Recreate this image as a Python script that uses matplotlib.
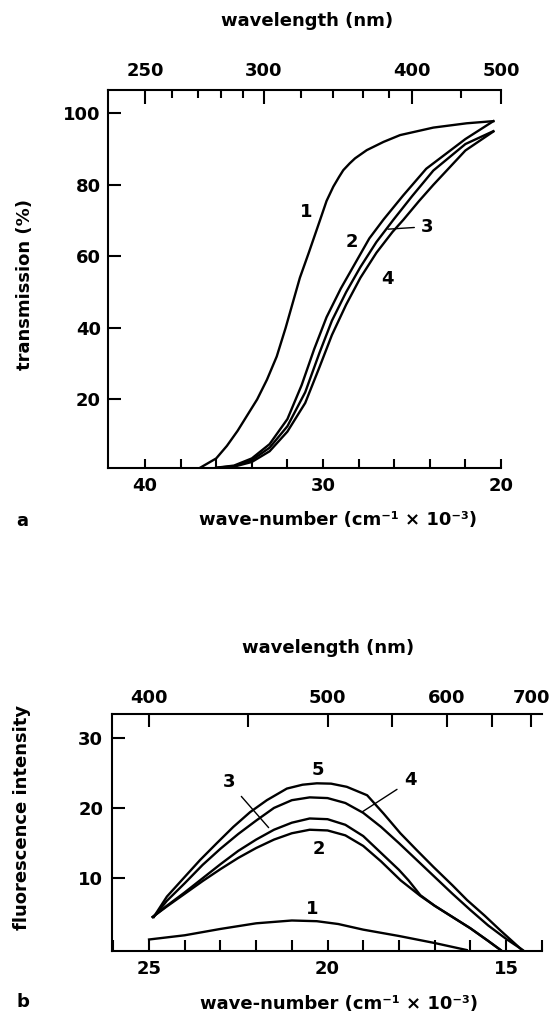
import numpy as np
import matplotlib

matplotlib.use("Agg")
import matplotlib.pyplot as plt

plt.rcParams["font.family"] = ["DejaVu Sans"]
plt.rcParams["font.weight"] = "bold"
plt.rcParams["axes.labelweight"] = "bold"
plt.rcParams["font.size"] = 13

# ---- panel a: transmission vs wave-number (cm^-1 x 10^-3)
a_wn_1 = [36.9, 36.0, 35.4, 34.8, 34.2, 33.7, 33.15, 32.6, 32.1, 31.7, 31.3, 30.8,
          30.17, 29.8, 29.42, 29.1, 28.86, 28.5, 28.2, 27.54, 26.6, 25.67, 23.8,
          21.93, 20.43]
a_tr_1 = [0.9, 3.5, 7.0, 11.2, 16.0, 20.0, 25.5, 32.0, 40.0, 47.0, 54.0, 61.0,
          70.1, 75.5, 79.5, 82.2, 84.1, 86.0, 87.4, 89.7, 92.0, 93.9, 96.0, 97.2, 97.8]
a_wn_2 = [36.0, 35.0, 34.0, 33.0, 32.0, 31.2, 30.5, 29.8, 29.0, 28.2, 27.4, 26.6,
          25.5, 24.2, 22.0, 20.43]
a_tr_2 = [0.9, 1.5, 3.5, 7.5, 14.5, 24.0, 34.0, 43.0, 51.0, 58.0, 65.0, 70.3,
          77.0, 84.5, 92.8, 97.8]
a_wn_3 = [36.0, 35.0, 34.0, 33.0, 32.0, 31.0, 30.2, 29.5, 28.7, 27.9, 27.0, 26.05,
          25.0, 23.8, 22.0, 20.43]
a_tr_3 = [0.9, 1.3, 3.0, 6.5, 12.5, 22.0, 33.0, 42.0, 50.0, 57.0, 64.0, 70.2,
          76.8, 84.0, 91.4, 95.0]
a_wn_4 = [35.8, 35.0, 34.0, 33.0, 32.0, 31.0, 30.2, 29.5, 28.7, 27.9, 27.0, 26.1,
          25.49, 24.6, 23.8, 22.0, 20.43]
a_tr_4 = [0.9, 1.2, 2.5, 5.5, 11.0, 19.0, 29.0, 38.0, 46.5, 54.0, 61.0, 66.8,
          70.2, 75.5, 80.0, 89.6, 94.9]
a_curves = [(a_wn_1, a_tr_1), (a_wn_2, a_tr_2), (a_wn_3, a_tr_3), (a_wn_4, a_tr_4)]
a_yticks = [20, 40, 60, 80, 100]
a_xticks = [40, 30, 20]
a_top_major = [250, 300, 400, 500]
a_top_minor = [260, 270, 280, 290, 320, 340, 360, 380, 450]

# ---- panel b: fluorescence vs wave-number
b_wn_1 = [25.0, 24.0, 23.0, 22.0, 21.0, 20.3, 19.7, 19.0, 18.0, 17.0, 16.1]
b_fl_1 = [1.3, 1.9, 2.8, 3.6, 4.0, 3.9, 3.5, 2.7, 1.8, 0.8, -0.2]
b_wn_2 = [24.9, 24.5, 24.0, 23.5, 23.0, 22.5, 22.0, 21.5, 21.0, 20.5, 20.0, 19.5,
          19.0, 18.5, 17.95, 17.4, 17.0, 16.5, 16.0, 15.5, 15.15]
b_fl_2 = [4.5, 6.0, 7.8, 9.6, 11.3, 12.9, 14.3, 15.5, 16.4, 16.9, 16.8, 16.1,
          14.6, 12.4, 9.7, 7.5, 6.1, 4.5, 2.9, 1.1, -0.2]
b_wn_3 = [24.9, 24.5, 24.0, 23.5, 23.0, 22.5, 22.0, 21.5, 21.0, 20.5, 20.0, 19.5,
          19.0, 18.5, 18.0, 17.73, 17.4, 17.0, 16.5, 16.0, 15.5, 15.15]
b_fl_3 = [4.5, 6.1, 8.0, 10.0, 12.0, 13.9, 15.5, 16.9, 17.9, 18.5, 18.4, 17.6,
          16.0, 13.6, 11.2, 9.7, 7.6, 6.1, 4.5, 2.9, 1.1, -0.2]
b_wn_4 = [24.87, 24.5, 24.0, 23.5, 23.0, 22.5, 22.0, 21.5, 21.0, 20.5, 20.0, 19.5,
          19.0, 18.5, 18.0, 17.5, 17.0, 16.5, 16.0, 15.5, 15.0, 14.53]
b_fl_4 = [4.5, 6.8, 9.3, 11.9, 14.2, 16.3, 18.2, 20.0, 21.1, 21.5, 21.4, 20.7,
          19.3, 17.3, 15.0, 12.6, 10.2, 7.8, 5.5, 3.3, 1.4, -0.2]
b_wn_5 = [24.87, 24.5, 24.0, 23.57, 23.1, 22.64, 22.17, 21.7, 21.14, 20.7, 20.3,
          19.9, 19.46, 18.89, 18.43, 17.96, 17.5, 17.03, 16.5, 16.09, 15.6, 15.16, 14.55]
b_fl_5 = [4.5, 7.4, 10.2, 12.6, 15.0, 17.3, 19.4, 21.1, 22.75, 23.3, 23.5,
          23.45, 23.0, 21.8, 19.2, 16.4, 14.0, 11.6, 9.0, 6.9, 4.7, 2.6, -0.2]
b_curves = [(b_wn_1, b_fl_1), (b_wn_2, b_fl_2), (b_wn_3, b_fl_3), (b_wn_4, b_fl_4),
            (b_wn_5, b_fl_5)]
b_yticks = [10, 20, 30]
b_xticks = [25, 20, 15]
b_top_major = [400, 500, 600, 700]
b_top_minor = [450, 550, 650]

LW = 1.7
SPW = 1.5


def style_axes(ax, xlim, ylim):
    ax.set_xlim(*xlim)
    ax.set_ylim(*ylim)
    ax.spines["right"].set_visible(False)
    for s in ("left", "top", "bottom"):
        ax.spines[s].set_linewidth(SPW)


def add_top_axis(ax, major, minor, major_len, minor_len, pad):
    top = ax.twiny()
    top.set_xlim(ax.get_xlim())
    top.set_xticks(1e4 / np.array(major, dtype=float))
    top.set_xticklabels([str(v) for v in major])
    top.set_xticks(1e4 / np.array(minor, dtype=float), minor=True)
    top.tick_params(which="both", direction="in", top=True, bottom=False,
                    labeltop=True, labelbottom=False, width=SPW, pad=pad)
    top.tick_params(which="major", length=major_len)
    top.tick_params(which="minor", length=minor_len)
    for s in top.spines.values():
        s.set_visible(False)
    top.set_xlabel("wavelength (nm)")
    return top


fig = plt.figure(figsize=(5.51, 10.15), dpi=100)

# panel a
ax = fig.add_axes([0.1966, 0.5392, 0.7127, 0.3721])
style_axes(ax, (42.06, 20.0), (0.9, 106.5))
for wn, tr in a_curves:
    ax.plot(wn, tr, color="black", lw=LW, solid_joinstyle="round")
ax.set_yticks(a_yticks)
ax.set_xticks(a_xticks)
ax.set_xticks(np.arange(40, 19, -2), minor=True)
ax.tick_params(which="both", direction="in", top=False, right=False, width=SPW)
ax.tick_params(axis="y", length=9, pad=5.5)
ax.tick_params(axis="x", which="both", length=6.5, pad=6.5)
ax.set_ylabel("transmission (%)", va="center")
ax.yaxis.set_label_coords(-0.212, 0.484)
ax.set_xlabel("wave-number (cm⁻¹ × 10⁻³)", va="center")
ax.xaxis.set_label_coords(0.586, -0.138)
top = add_top_axis(ax, a_top_major, a_top_minor, 10, 5.4, 7)
top.xaxis.label.set_va("center")
top.xaxis.set_label_coords(0.506, 1.183)

ax.text(30.94, 72.5, "1", ha="center", va="center")
ax.text(28.36, 64.1, "2", ha="center", va="center")
ax.annotate("3", xy=(26.35, 67.6), xytext=(24.13, 68.3), ha="center", va="center",
            arrowprops=dict(arrowstyle="-", lw=1.0, shrinkA=3, shrinkB=0))
ax.text(26.39, 53.8, "4", ha="center", va="center")
fig.text(22 / 551, 1 - 521 / 1015, "a", ha="center", va="center")

# panel b
bx = fig.add_axes([0.2038, 0.0633, 0.7793, 0.2329])
style_axes(bx, (26.03, 14.0), (-0.3, 33.3))
for wn, fl in b_curves:
    bx.plot(wn, fl, color="black", lw=LW, solid_joinstyle="round")
bx.set_yticks(b_yticks)
bx.set_xticks(b_xticks)
bx.set_xticks(np.arange(26, 13.5, -1), minor=True)
bx.tick_params(which="both", direction="in", top=False, right=False, width=SPW)
bx.tick_params(axis="y", length=9, pad=6.5)
bx.tick_params(axis="x", which="both", length=7.7, pad=6.5)
bx.set_ylabel("fluorescence intensity", va="center")
bx.yaxis.set_label_coords(-0.2103, 0.5635)
bx.set_xlabel("wave-number (cm⁻¹ × 10⁻³)", va="center")
bx.xaxis.set_label_coords(0.527, -0.2255)
btop = add_top_axis(bx, b_top_major, b_top_minor, 9.5, 9.5, 5)
btop.xaxis.label.set_va("center")
btop.xaxis.set_label_coords(0.502, 1.2805)

bx.text(20.43, 5.7, "1", ha="center", va="center")
bx.text(20.25, 14.2, "2", ha="center", va="center")
bx.annotate("3", xy=(21.65, 17.2), xytext=(22.77, 23.7), ha="center", va="center",
            arrowprops=dict(arrowstyle="-", lw=1.0, shrinkA=4, shrinkB=0))
bx.annotate("4", xy=(19.04, 19.4), xytext=(17.67, 23.9), ha="center", va="center",
            arrowprops=dict(arrowstyle="-", lw=1.0, shrinkA=4, shrinkB=0))
bx.text(20.26, 25.45, "5", ha="center", va="center")
fig.text(23 / 551, 1 - 1002 / 1015, "b", ha="center", va="center")

fig.savefig("out.png", dpi=100)
